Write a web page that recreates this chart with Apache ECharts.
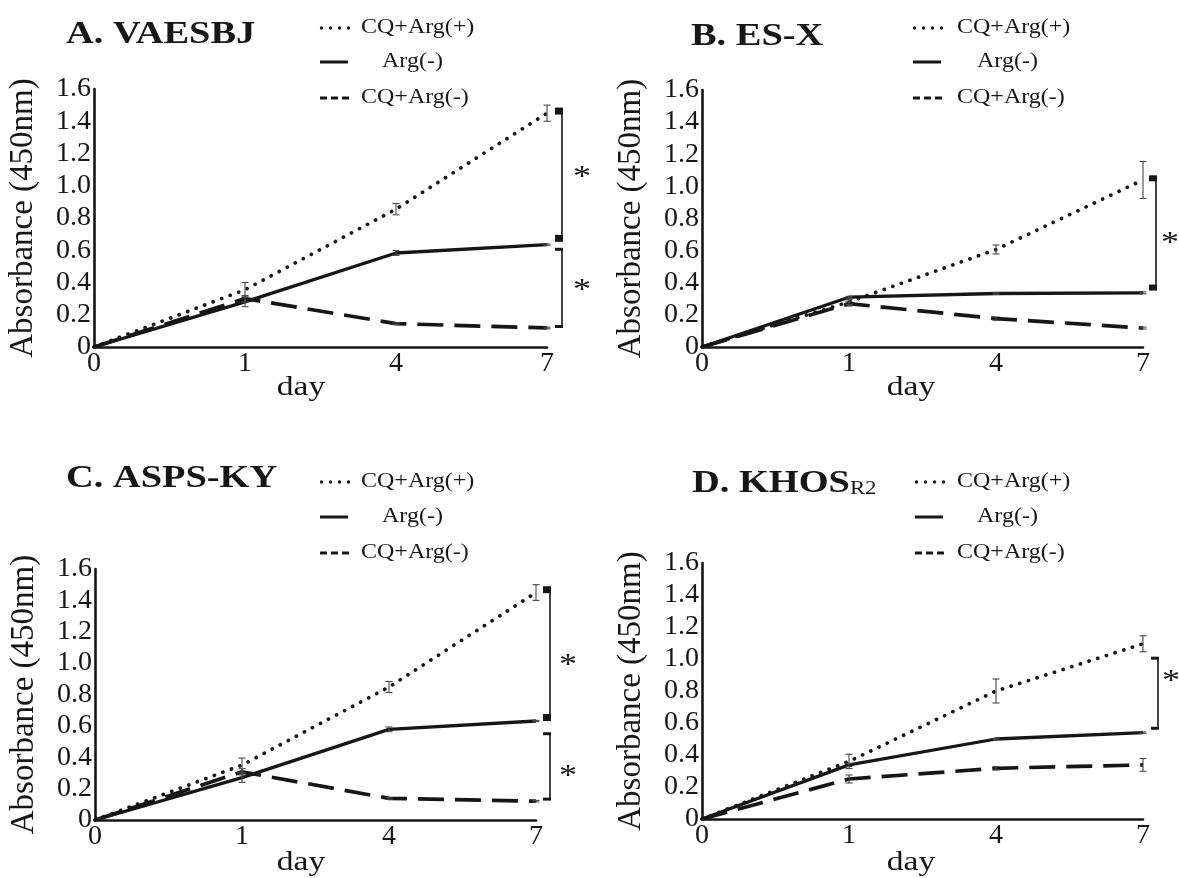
<!DOCTYPE html>
<html>
<head>
<meta charset="utf-8">
<script src="https://cdn.jsdelivr.net/npm/echarts@6/dist/echarts.min.js"></script>
<style>
  html, body { margin: 0; padding: 0; background: #ffffff; }
  #chart { width: 1179px; height: 878px; }
</style>
</head>
<body>
<div id="chart"></div>
<script>
// Sampling days (evenly spaced categories on the x axis)
const days = ['0', '1', '4', '7'];
const seriesNames = ['CQ+Arg(+)', 'Arg(-)', 'CQ+Arg(-)'];

// A. VAESBJ — mean absorbance and SD per day
const vaesbjCqArgPlus = [0, 0.355, 0.855, 1.45];
const vaesbjCqArgPlusSd = [0, 0.045, 0.035, 0.05];
const vaesbjArgMinus = [0, 0.28, 0.583, 0.635];
const vaesbjArgMinusSd = [0, 0.03, 0.015, 0.004];
const vaesbjCqArgMinus = [0, 0.30, 0.145, 0.118];
const vaesbjCqArgMinusSd = [0, 0.02, 0.006, 0.005];
const vaesbjBrackets = [[1.463, 0.674], [0.606, 0.127]];

// B. ES-X
const esxCqArgPlus = [0, 0.28, 0.607, 1.04];
const esxCqArgPlusSd = [0, 0.015, 0.028, 0.115];
const esxArgMinus = [0, 0.31, 0.333, 0.337];
const esxArgMinusSd = [0, 0.005, 0.004, 0.006];
const esxCqArgMinus = [0, 0.27, 0.177, 0.118];
const esxCqArgMinusSd = [0, 0.015, 0.01, 0.006];
const esxBrackets = [[1.05, 0.37]];

// C. ASPS-KY
const aspsCqArgPlus = [0, 0.35, 0.848, 1.45];
const aspsCqArgPlusSd = [0, 0.045, 0.035, 0.05];
const aspsArgMinus = [0, 0.27, 0.578, 0.631];
const aspsArgMinusSd = [0, 0.03, 0.015, 0.004];
const aspsCqArgMinus = [0, 0.307, 0.138, 0.12];
const aspsCqArgMinusSd = [0, 0.02, 0.006, 0.005];
const aspsBrackets = [[1.468, 0.653], [0.55, 0.133]];

// D. KHOS-R2
const khosCqArgPlus = [0, 0.36, 0.80, 1.095];
const khosCqArgPlusSd = [0, 0.045, 0.075, 0.05];
const khosArgMinus = [0, 0.338, 0.50, 0.54];
const khosArgMinusSd = [0, 0.01, 0.004, 0.004];
const khosCqArgMinus = [0, 0.25, 0.317, 0.338];
const khosCqArgMinusSd = [0, 0.025, 0.01, 0.04];
const khosBrackets = [[1.005, 0.567]];

const INK = '#161616';
const BAR_INK = '#474747';
const SERIF = '"Liberation Serif", "Times New Roman", serif';
const SX = 1.2; // horizontal stretch of the lettering

const panels = [
  {
    title: '{b|A. VAESBJ}', grid: { left: 94, top: 89, width: 453, height: 258 },
    titlePos: [66, 33], legendX: 320, legendText: [361, 382], legendY: [28, 62, 98],
    dayPos: [301, 388], bracketOffset: 15, capSizes: [7, 3],
    starDx: 20, starLevels: [1.087, 0.385],
    values: [vaesbjCqArgPlus, vaesbjArgMinus, vaesbjCqArgMinus],
    sds: [vaesbjCqArgPlusSd, vaesbjArgMinusSd, vaesbjCqArgMinusSd],
    brackets: vaesbjBrackets
  },
  {
    title: '{b|B. ES-X}', grid: { left: 702, top: 90, width: 441, height: 257 },
    titlePos: [691, 35], legendX: 913, legendText: [957, 977], legendY: [28, 62, 98],
    dayPos: [911, 388], bracketOffset: 13, capSizes: [6],
    starDx: 14, starLevels: [0.68],
    values: [esxCqArgPlus, esxArgMinus, esxCqArgMinus],
    sds: [esxCqArgPlusSd, esxArgMinusSd, esxCqArgMinusSd],
    brackets: esxBrackets
  },
  {
    title: '{b|C. ASPS-KY}', grid: { left: 95, top: 569, width: 441, height: 251 },
    titlePos: [66, 477], legendX: 320, legendText: [361, 382], legendY: [482, 517, 553],
    dayPos: [301, 863], bracketOffset: 14, capSizes: [7, 3],
    starDx: 18, starLevels: [1.02, 0.31],
    values: [aspsCqArgPlus, aspsArgMinus, aspsCqArgMinus],
    sds: [aspsCqArgPlusSd, aspsArgMinusSd, aspsCqArgMinusSd],
    brackets: aspsBrackets
  },
  {
    title: '{b|D. KHOS}{s|R2}', grid: { left: 702, top: 563, width: 441, height: 256 },
    titlePos: [692, 482], legendX: 915, legendText: [957, 977], legendY: [482, 517, 553],
    dayPos: [911, 863], bracketOffset: 15, capSizes: [3],
    starDx: 13, starLevels: [0.89],
    values: [khosCqArgPlus, khosArgMinus, khosCqArgMinus],
    sds: [khosCqArgPlusSd, khosArgMinusSd, khosCqArgMinusSd],
    brackets: khosBrackets
  }
];

// Line looks: dotted, solid, long-dashed
const lineLooks = [
  { type: [0.1, 9], width: 3.7, cap: 'round' },
  { type: 'solid', width: 3.3, cap: 'butt' },
  { type: [26, 11], width: 3.7, cap: 'butt' }
];

function renderErrorBar(params, api) {
  const i = api.value(0), v = api.value(1), sd = api.value(2);
  const hi = api.coord([i, v + sd]);
  const lo = api.coord([i, v - sd]);
  const x = hi[0], w = 3.5;
  const st = { stroke: BAR_INK, lineWidth: 1.1 };
  return {
    type: 'group',
    children: [
      { type: 'line', shape: { x1: x, y1: hi[1], x2: x, y2: lo[1] }, style: st },
      { type: 'line', shape: { x1: x - w, y1: hi[1], x2: x + w, y2: hi[1] }, style: st },
      { type: 'line', shape: { x1: x - w, y1: lo[1], x2: x + w, y2: lo[1] }, style: st }
    ]
  };
}

function bracketRenderer(p) {
  return function (params, api) {
    const top = api.coord([api.value(0), api.value(1)]);
    const bot = api.coord([api.value(0), api.value(2)]);
    const star = api.coord([api.value(0), p.starLevels[params.dataIndex]]);
    const x = top[0] + p.bracketOffset;
    const c = p.capSizes[params.dataIndex];
    return {
      type: 'group',
      children: [
        { type: 'line', shape: { x1: x, y1: top[1], x2: x, y2: bot[1] }, style: { stroke: INK, lineWidth: 1.6 } },
        { type: 'rect', shape: { x: x - 7, y: top[1] - c / 2, width: 8, height: c }, style: { fill: INK } },
        { type: 'rect', shape: { x: x - 7, y: bot[1] - c / 2, width: 8, height: c }, style: { fill: INK } },
        {
          type: 'text', x: x + p.starDx, y: star[1] + 5, scaleX: SX,
          style: { text: '*', font: '30px ' + SERIF, fill: INK, align: 'center', verticalAlign: 'middle' }
        }
      ]
    };
  };
}

function legendIcons(x, y, kind) {
  if (kind === 0) {
    return [0, 9, 18, 27].map(dx => ({
      type: 'circle', shape: { cx: x + dx + 1.5, cy: y, r: 1.7 }, style: { fill: INK }
    }));
  }
  if (kind === 1) {
    return [{ type: 'line', shape: { x1: x, y1: y, x2: x + 28, y2: y }, style: { stroke: INK, lineWidth: 3 } }];
  }
  return [0, 11, 22].map(dx => ({
    type: 'line', shape: { x1: x + dx, y1: y, x2: x + dx + 7, y2: y }, style: { stroke: INK, lineWidth: 3 }
  }));
}

const grids = [], xAxes = [], yAxes = [], series = [], graphics = [];

panels.forEach((p, k) => {
  grids.push(Object.assign({ containLabel: false }, p.grid));
  xAxes.push({
    type: 'category', gridIndex: k, data: days, boundaryGap: false,
    axisLine: { lineStyle: { color: INK, width: 2.6 } },
    axisTick: { show: false },
    axisLabel: { color: INK, fontFamily: SERIF, fontSize: 28, margin: 3 },
    splitLine: { show: false }
  });
  yAxes.push({
    type: 'value', gridIndex: k, min: 0, max: 1.6, interval: 0.2,
    axisLine: { show: true, lineStyle: { color: INK, width: 2.6 } },
    axisTick: { show: false },
    splitLine: { show: false },
    axisLabel: {
      color: INK, fontFamily: SERIF, fontSize: 28, margin: 3,
      formatter: v => (v === 0 ? '0' : v.toFixed(1))
    },
    name: 'Absorbance (450nm)', nameLocation: 'middle', nameGap: 54,
    nameTextStyle: { color: INK, fontFamily: SERIF, fontSize: 33 }
  });

  p.values.forEach((vals, s) => {
    series.push({
      type: 'line', name: seriesNames[s], xAxisIndex: k, yAxisIndex: k,
      data: vals, symbol: 'none', z: 5 - s,
      lineStyle: Object.assign({ color: INK }, lineLooks[s]),
      animation: false
    });
  });

  const bars = [];
  p.values.forEach((vals, s) => {
    vals.forEach((v, i) => { if (p.sds[s][i] > 0) bars.push([i, v, p.sds[s][i]]); });
  });
  series.push({
    type: 'custom', xAxisIndex: k, yAxisIndex: k, data: bars,
    encode: { x: 0, y: 1 }, renderItem: renderErrorBar, z: 6, animation: false, silent: true
  });

  series.push({
    type: 'custom', xAxisIndex: k, yAxisIndex: k,
    data: p.brackets.map(b => [days.length - 1, b[0], b[1]]),
    encode: { x: 0, y: [1, 2] }, renderItem: bracketRenderer(p),
    z: 6, animation: false, silent: true, clip: false
  });

  // panel title
  graphics.push({
    type: 'text', x: p.titlePos[0], y: p.titlePos[1], scaleX: SX,
    style: {
      text: p.title, align: 'left', verticalAlign: 'middle', fill: INK,
      rich: {
        b: { fontFamily: SERIF, fontWeight: 'bold', fontSize: 32, lineHeight: 36, verticalAlign: 'bottom', fill: INK },
        s: { fontFamily: SERIF, fontWeight: 'normal', fontSize: 19, lineHeight: 36, verticalAlign: 'bottom', fill: INK, padding: [0, 0, 1, 0] }
      }
    }
  });

  // legend
  seriesNames.forEach((nm, s) => {
    legendIcons(p.legendX, p.legendY[s], s).forEach(g => graphics.push(g));
    graphics.push({
      type: 'text', x: s === 1 ? p.legendText[1] : p.legendText[0], y: p.legendY[s], scaleX: SX,
      style: { text: nm, font: '20px ' + SERIF, fill: INK, align: 'left', verticalAlign: 'middle' }
    });
  });

  // x axis caption
  graphics.push({
    type: 'text', x: p.dayPos[0], y: p.dayPos[1], scaleX: SX,
    style: { text: 'day', font: '28px ' + SERIF, fill: INK, align: 'center', verticalAlign: 'middle' }
  });
});

const chart = echarts.init(document.getElementById('chart'), null, { renderer: 'canvas' });
chart.setOption({
  backgroundColor: '#ffffff',
  animation: false,
  grid: grids,
  xAxis: xAxes,
  yAxis: yAxes,
  series: series,
  graphic: graphics
});
</script>
</body>
</html>
